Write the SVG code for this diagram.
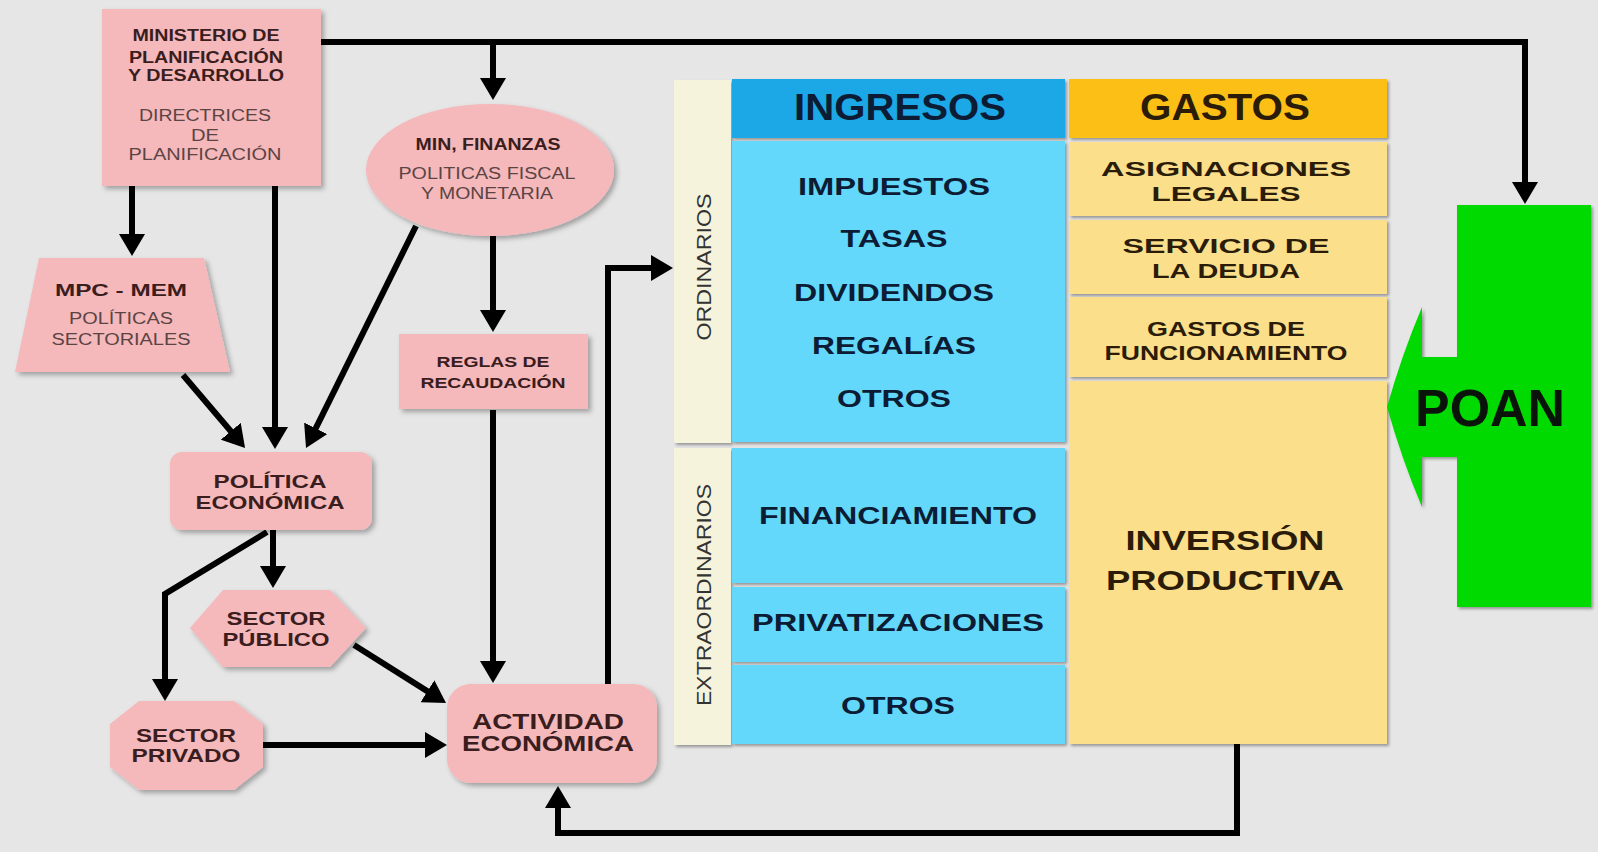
<svg xmlns="http://www.w3.org/2000/svg" width="1598" height="852" viewBox="0 0 1598 852">
<defs>
<style>
text{font-family:"Liberation Sans",Arial,Helvetica,sans-serif;text-anchor:middle}
.b{font-weight:bold}
.pk{fill:#f5b8bb;filter:url(#sh)}
.tp{fill:#3a1d1d}
.tr{fill:#5b4444}
.ti{fill:#0c1c34}
.tg{fill:#2a1c08}
.con{fill:none;stroke:#000;stroke-width:6;marker-end:url(#ah)}
.cell{filter:url(#sh2)}
</style>
<filter id="sh" x="-20%" y="-20%" width="140%" height="140%">
<feDropShadow dx="3" dy="3" stdDeviation="2.5" flood-color="#000" flood-opacity="0.3"/>
</filter>
<filter id="sh2" x="-10%" y="-10%" width="120%" height="120%">
<feDropShadow dx="2" dy="2" stdDeviation="1.5" flood-color="#000" flood-opacity="0.35"/>
</filter>
<marker id="ah" viewBox="0 0 22 26" refX="4" refY="13" markerWidth="22" markerHeight="26" markerUnits="userSpaceOnUse" orient="auto">
<path d="M0,0 L22,13 L0,26 z" fill="#000"/>
</marker>
</defs>
<rect x="0" y="0" width="1598" height="852" fill="#e6e6e6"/>

<g id="connectors">
<path class="con" d="M321,42 H1525 V186"/>
<path class="con" d="M493,42 V82"/>
<path class="con" d="M132,186 V238"/>
<path class="con" d="M275,186 V431"/>
<path class="con" d="M183,375 L233.4,434.3"/>
<path class="con" d="M416,226 L314,431.9"/>
<path class="con" d="M493,236 V314"/>
<path class="con" d="M493,410 V665"/>
<path class="con" d="M273,530 V570"/>
<path class="con" d="M267,532 L165,594 V683"/>
<path class="con" d="M354,645 L430.8,693.4"/>
<path class="con" d="M263,745 H429"/>
<path class="con" d="M608,685 V268 H655"/>
<path class="con" d="M1237,744 V833 H558 V804"/>
</g>

<g id="ministerio">
<rect class="pk" x="102" y="9" width="219" height="177"/>
<text class="b tp" font-size="16" x="206" y="41" textLength="147" lengthAdjust="spacingAndGlyphs">MINISTERIO DE</text>
<text class="b tp" font-size="16" x="206" y="63" textLength="154" lengthAdjust="spacingAndGlyphs">PLANIFICACIÓN</text>
<text class="b tp" font-size="16" x="206" y="81" textLength="156" lengthAdjust="spacingAndGlyphs">Y DESARROLLO</text>
<text class="tr" font-size="16" x="205" y="121" textLength="132" lengthAdjust="spacingAndGlyphs">DIRECTRICES</text>
<text class="tr" font-size="16" x="205" y="141" textLength="28" lengthAdjust="spacingAndGlyphs">DE</text>
<text class="tr" font-size="16" x="205" y="160" textLength="153" lengthAdjust="spacingAndGlyphs">PLANIFICACIÓN</text>
</g>

<g id="mpc">
<polygon class="pk" points="39,258 204,258 230,372 15,372"/>
<text class="b tp" font-size="17" x="121" y="296" textLength="132" lengthAdjust="spacingAndGlyphs">MPC - MEM</text>
<text class="tr" font-size="16" x="121" y="324" textLength="104" lengthAdjust="spacingAndGlyphs">POLÍTICAS</text>
<text class="tr" font-size="16" x="121" y="345" textLength="139" lengthAdjust="spacingAndGlyphs">SECTORIALES</text>
</g>

<g id="finanzas">
<ellipse class="pk" cx="490" cy="170" rx="124" ry="66"/>
<text class="b tp" font-size="16" x="488" y="150" textLength="145" lengthAdjust="spacingAndGlyphs">MIN, FINANZAS</text>
<text class="tr" font-size="16" x="487" y="179" textLength="177" lengthAdjust="spacingAndGlyphs">POLITICAS FISCAL</text>
<text class="tr" font-size="16" x="487" y="199" textLength="132" lengthAdjust="spacingAndGlyphs">Y MONETARIA</text>
</g>

<g id="reglas">
<rect class="pk" x="399" y="334" width="189" height="75"/>
<text class="b tp" font-size="15" x="493" y="367" textLength="113" lengthAdjust="spacingAndGlyphs">REGLAS DE</text>
<text class="b tp" font-size="15" x="493" y="388" textLength="145" lengthAdjust="spacingAndGlyphs">RECAUDACIÓN</text>
</g>

<g id="politica">
<rect class="pk" x="170" y="452" width="202" height="78" rx="12"/>
<text class="b tp" font-size="18" x="270" y="488" textLength="113" lengthAdjust="spacingAndGlyphs">POLÍTICA</text>
<text class="b tp" font-size="18" x="270" y="509" textLength="149" lengthAdjust="spacingAndGlyphs">ECONÓMICA</text>
</g>

<g id="sector-publico">
<polygon class="pk" points="190,628 223,590 330,590 366,628 330,667 223,667"/>
<text class="b tp" font-size="19" x="276" y="625" textLength="99" lengthAdjust="spacingAndGlyphs">SECTOR</text>
<text class="b tp" font-size="19" x="276" y="646" textLength="107" lengthAdjust="spacingAndGlyphs">PÚBLICO</text>
</g>

<g id="sector-privado">
<polygon class="pk" points="139,701 234,701 263,724 263,767 234,790 139,790 110,767 110,724"/>
<text class="b tp" font-size="19" x="186" y="742" textLength="100" lengthAdjust="spacingAndGlyphs">SECTOR</text>
<text class="b tp" font-size="19" x="186" y="762" textLength="109" lengthAdjust="spacingAndGlyphs">PRIVADO</text>
</g>

<g id="actividad">
<rect class="pk" x="447" y="684" width="210" height="99" rx="24"/>
<text class="b tp" font-size="22" x="548" y="729" textLength="152" lengthAdjust="spacingAndGlyphs">ACTIVIDAD</text>
<text class="b tp" font-size="22" x="548" y="751" textLength="172" lengthAdjust="spacingAndGlyphs">ECONÓMICA</text>
</g>

<g id="ordinarios">
<rect class="cell" x="674" y="80" width="57" height="363" fill="#f6f3dc"/>
<text fill="#333" font-size="21" transform="translate(711,267) rotate(-90)" textLength="147" lengthAdjust="spacingAndGlyphs">ORDINARIOS</text>
</g>
<g id="extraordinarios">
<rect class="cell" x="674" y="448" width="57" height="297" fill="#f6f3dc"/>
<text fill="#333" font-size="21" transform="translate(711,595) rotate(-90)" textLength="222" lengthAdjust="spacingAndGlyphs">EXTRAORDINARIOS</text>
</g>

<g id="ingresos">
<rect class="cell" x="732" y="79" width="333" height="59" fill="#1ba7e6"/>
<text class="b ti" font-size="36" x="900" y="120" textLength="212" lengthAdjust="spacingAndGlyphs">INGRESOS</text>
</g>
<g id="ingresos-ordinarios">
<rect class="cell" x="732" y="141" width="333" height="301" fill="#63d8fa"/>
<text class="b ti" font-size="24" x="894" y="195" textLength="192" lengthAdjust="spacingAndGlyphs">IMPUESTOS</text>
<text class="b ti" font-size="24" x="894" y="247" textLength="107" lengthAdjust="spacingAndGlyphs">TASAS</text>
<text class="b ti" font-size="24" x="894" y="301" textLength="200" lengthAdjust="spacingAndGlyphs">DIVIDENDOS</text>
<text class="b ti" font-size="24" x="894" y="354" textLength="164" lengthAdjust="spacingAndGlyphs">REGALíAS</text>
<text class="b ti" font-size="24" x="894" y="407" textLength="114" lengthAdjust="spacingAndGlyphs">OTROS</text>
</g>
<g id="financiamiento">
<rect class="cell" x="732" y="448" width="333" height="135" fill="#63d8fa"/>
<text class="b ti" font-size="24" x="898" y="524" textLength="278" lengthAdjust="spacingAndGlyphs">FINANCIAMIENTO</text>
</g>
<g id="privatizaciones">
<rect class="cell" x="732" y="587" width="333" height="75" fill="#63d8fa"/>
<text class="b ti" font-size="24" x="898" y="631" textLength="292" lengthAdjust="spacingAndGlyphs">PRIVATIZACIONES</text>
</g>
<g id="otros-extra">
<rect class="cell" x="732" y="665" width="333" height="79" fill="#63d8fa"/>
<text class="b ti" font-size="24" x="898" y="714" textLength="114" lengthAdjust="spacingAndGlyphs">OTROS</text>
</g>

<g id="gastos">
<rect class="cell" x="1069" y="79" width="318" height="59" fill="#fbbf12"/>
<text class="b tg" font-size="36" x="1225" y="120" textLength="170" lengthAdjust="spacingAndGlyphs">GASTOS</text>
</g>
<g id="asignaciones">
<rect class="cell" x="1069" y="142" width="318" height="74" fill="#fbdf8b"/>
<text class="b tg" font-size="21" x="1226" y="176" textLength="250" lengthAdjust="spacingAndGlyphs">ASIGNACIONES</text>
<text class="b tg" font-size="21" x="1226" y="201" textLength="149" lengthAdjust="spacingAndGlyphs">LEGALES</text>
</g>
<g id="servicio">
<rect class="cell" x="1069" y="220" width="318" height="74" fill="#fbdf8b"/>
<text class="b tg" font-size="21" x="1226" y="253" textLength="207" lengthAdjust="spacingAndGlyphs">SERVICIO DE</text>
<text class="b tg" font-size="21" x="1226" y="278" textLength="148" lengthAdjust="spacingAndGlyphs">LA DEUDA</text>
</g>
<g id="funcionamiento">
<rect class="cell" x="1069" y="297" width="318" height="80" fill="#fbdf8b"/>
<text class="b tg" font-size="20" x="1226" y="336" textLength="158" lengthAdjust="spacingAndGlyphs">GASTOS DE</text>
<text class="b tg" font-size="20" x="1226" y="360" textLength="243" lengthAdjust="spacingAndGlyphs">FUNCIONAMIENTO</text>
</g>
<g id="inversion">
<rect class="cell" x="1069" y="381" width="318" height="363" fill="#fbdf8b"/>
<text class="b tg" font-size="27" x="1225" y="550" textLength="199" lengthAdjust="spacingAndGlyphs">INVERSIÓN</text>
<text class="b tg" font-size="27" x="1225" y="590" textLength="238" lengthAdjust="spacingAndGlyphs">PRODUCTIVA</text>
</g>

<g id="poan">
<path d="M1457,205 H1591 V607 H1457 V457 H1422 V507 Q1402,460 1387,407 Q1402,354 1422,307 V357 H1457 Z" fill="#03da03" filter="url(#sh2)"/>
<text class="b" fill="#0a140a" font-size="52" x="1490" y="426" textLength="150" lengthAdjust="spacingAndGlyphs">POAN</text>
</g>
</svg>
